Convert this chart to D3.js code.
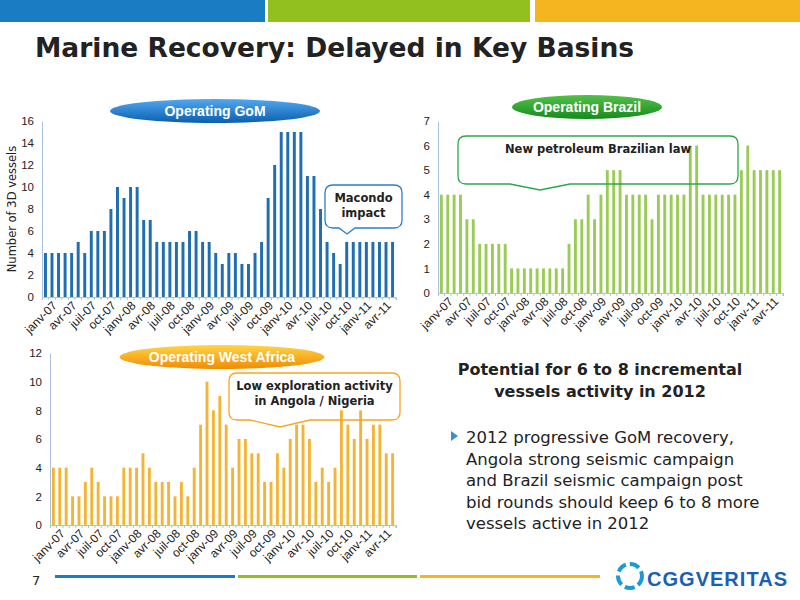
<!DOCTYPE html>
<html><head><meta charset="utf-8">
<script src="https://cdn.jsdelivr.net/npm/d3@7"></script>
<style>body{margin:0;background:#fff}svg{display:block;font-family:Verdana,"DejaVu Sans",sans-serif}</style>
</head><body><svg id="c" width="800" height="600"></svg>
<script>
const months = ["janv","févr","mars","avr","mai","juin","juil","août","sept","oct","nov","déc"];
const categories = [];
for (let y = 7; y <= 11; y++) for (let m = 0; m < 12; m++) if (categories.length < 54) categories.push(months[m] + "-" + String(y).padStart(2, "0"));
const gomValues = [4,4,4,4,4,5,4,6,6,6,8,10,9,10,10,7,7,5,5,5,5,5,6,6,5,5,4,3,4,4,3,3,4,5,9,12,15,15,15,15,11,11,8,5,4,3,5,5,5,5,5,5,5,5];
const brazilValues = [4,4,4,4,3,3,2,2,2,2,2,1,1,1,1,1,1,1,1,1,2,3,3,4,3,4,5,5,5,4,4,4,4,3,4,4,4,4,4,6,6,4,4,4,4,4,4,5,6,5,5,5,5,5];
const waValues = [4,4,4,2,2,3,4,3,2,2,2,4,4,4,5,4,3,3,3,2,3,2,4,7,10,8,9,7,4,6,6,5,5,3,3,5,4,6,7,7,6,3,4,3,4,8,7,6,8,6,7,7,5,5];
const tickLabels = categories.filter((d, i) => i % 3 === 0);

const svg = d3.select("#c");
// top stripes
[["#1a7dc4",0,265],["#92c01f",268,530],["#f5b521",535,800]].forEach(([c,x0,x1]) =>
  svg.append("rect").attr("x",x0).attr("y",0).attr("width",x1-x0).attr("height",22).attr("fill",c));
svg.append("text").attr("x",35).attr("y",57).attr("font-size",26.5).attr("font-weight","bold").attr("fill","#222")
  .text("Marine Recovery: Delayed in Key Basins");

function chart(values, box, ymax, color, ylabel) {
  const x = d3.scaleBand().domain(categories).range([box.x0, box.x1]).paddingInner(0.55).paddingOuter(0.3);
  const y = d3.scaleLinear().domain([0, ymax]).range([box.y1, box.y0]);
  const g = svg.append("g");
  g.append("g").attr("transform",`translate(${box.x0},0)`)
    .call(d3.axisLeft(y).ticks(ymax > 8 ? ymax/2 : ymax).tickSize(0).tickPadding(8))
    .call(a => a.select(".domain").attr("stroke","#a8c4e0"))
    .call(a => a.selectAll("text").attr("font-size",11.5).attr("fill","#222"));
  const xa = g.append("g").attr("transform",`translate(0,${box.y1})`)
    .call(d3.axisBottom(x).tickValues(categories).tickSize(3).tickFormat(d => tickLabels.includes(d) ? d : ""));
  xa.select(".domain").attr("stroke","#a8c4e0");
  xa.selectAll(".tick line").attr("stroke","#a8c4e0").attr("transform",`translate(${x.step()/2},0)`);
  xa.selectAll("text").attr("font-size",12).attr("fill","#222").attr("text-anchor","end")
    .attr("transform","translate(3,0) rotate(-45)").attr("dx",0).attr("dy","0.6em");
  g.selectAll(".bar").data(values).join("rect")
    .attr("x",(d,i) => x(categories[i])).attr("width",x.bandwidth())
    .attr("y",d => y(d)).attr("height",d => y(0) - y(d)).attr("fill",color);
  if (ylabel) svg.append("text").attr("transform",`translate(${box.x0-26},${(box.y0+box.y1)/2}) rotate(-90)`)
    .attr("text-anchor","middle").attr("font-size",11.5).attr("fill","#222").text(ylabel);
}
chart(gomValues,{x0:42,x1:396,y0:121,y1:297},16,"#1f6db3","Number of 3D vessels");
chart(brazilValues,{x0:438,x1:783,y0:121,y1:293},7,"#99cc55",null);
chart(waValues,{x0:50,x1:396,y0:353,y1:525},12,"#f5b435",null);

function pill(cx, cy, w, c1, c2, label) {
  const id = "g" + Math.round(cx+cy);
  const gr = svg.append("defs").append("linearGradient").attr("id",id).attr("x1",0).attr("y1",0).attr("x2",0).attr("y2",1);
  gr.append("stop").attr("offset",0).attr("stop-color",c1);
  gr.append("stop").attr("offset",1).attr("stop-color",c2);
  svg.append("ellipse").attr("cx",cx).attr("cy",cy).attr("rx",w/2).attr("ry",12).attr("fill",`url(#${id})`);
  svg.append("text").attr("x",cx).attr("y",cy+5).attr("text-anchor","middle").attr("font-size",14)
    .attr("font-weight","bold").attr("fill","#fff").attr("font-family","Arial,'Liberation Sans',sans-serif").text(label);
}
pill(215,111,210,"#52a8f0","#0a5fb0","Operating GoM");
pill(587,107,150,"#52c24a","#168a1e","Operating Brazil");
pill(222,357,205,"#ffd54a","#f08c00","Operating West  Africa");

function callout(x0, y0, x1, y1, px, py, pw, stroke, lines, fs) {
  const r = 8;
  const mid = (x0 + x1) / 2;
  const p = `M${x0+r},${y0} H${x1-r} Q${x1},${y0} ${x1},${y0+r} V${y1-r} Q${x1},${y1} ${x1-r},${y1} H${px+pw} L${px},${py} L${px-pw},${y1} H${x0+r} Q${x0},${y1} ${x0},${y1-r} V${y0+r} Q${x0},${y0} ${x0+r},${y0} Z`;
  svg.append("path").attr("d",p).attr("fill","none").attr("stroke",stroke).attr("stroke-width",1.3);
  lines.forEach((t,i) => svg.append("text").attr("x",mid).attr("y",y0+17+i*15).attr("text-anchor","middle")
    .attr("font-size",fs).attr("font-weight","bold").attr("fill","#222").text(t));
}
callout(325,185,402,228,347,234,8,"#2b7fc8",["Macondo","impact"],11.5);
callout(458,136,738,184,540,190,30,"#2aa84a",["New petroleum Brazilian law"],11.5);
callout(229,373,400,420,280,427,30,"#f5a623",["Low exploration activity","in Angola / Nigeria"],11.5);

svg.append("text").attr("x",600).attr("y",375).attr("text-anchor","middle").attr("font-size",16).attr("font-weight","bold").attr("fill","#222")
  .text("Potential for 6 to 8 incremental");
svg.append("text").attr("x",600).attr("y",397).attr("text-anchor","middle").attr("font-size",16).attr("font-weight","bold").attr("fill","#222")
  .text("vessels activity in 2012");
svg.append("path").attr("d","M451,431 L458,436 L451,441 Z").attr("fill","#3a8fd0");
["2012 progressive GoM recovery,","Angola strong seismic campaign","and Brazil seismic campaign post","bid rounds should keep 6 to 8 more","vessels active in 2012"]
  .forEach((t,i) => svg.append("text").attr("x",466).attr("y",443+i*21.5).attr("font-size",16.5).attr("fill","#222").text(t));

[["#1a7dc4",55,235],["#92c01f",238,417],["#f5b521",420,600]].forEach(([c,x0,x1]) =>
  svg.append("rect").attr("x",x0).attr("y",575).attr("width",x1-x0).attr("height",3).attr("fill",c));
svg.append("text").attr("x",32).attr("y",585).attr("font-size",13).attr("fill","#222").text("7");
// logo
svg.append("circle").attr("cx",630).attr("cy",576).attr("r",12).attr("fill","none").attr("stroke","#1a9ad6").attr("stroke-width",4).attr("stroke-dasharray","10 4");
svg.append("text").attr("x",647).attr("y",586).attr("font-size",20).attr("font-weight","bold").attr("fill","#1a5fb4")
  .attr("font-family","Arial,'Liberation Sans',sans-serif").attr("textLength",140).text("CGGVERITAS");
</script></body></html>
